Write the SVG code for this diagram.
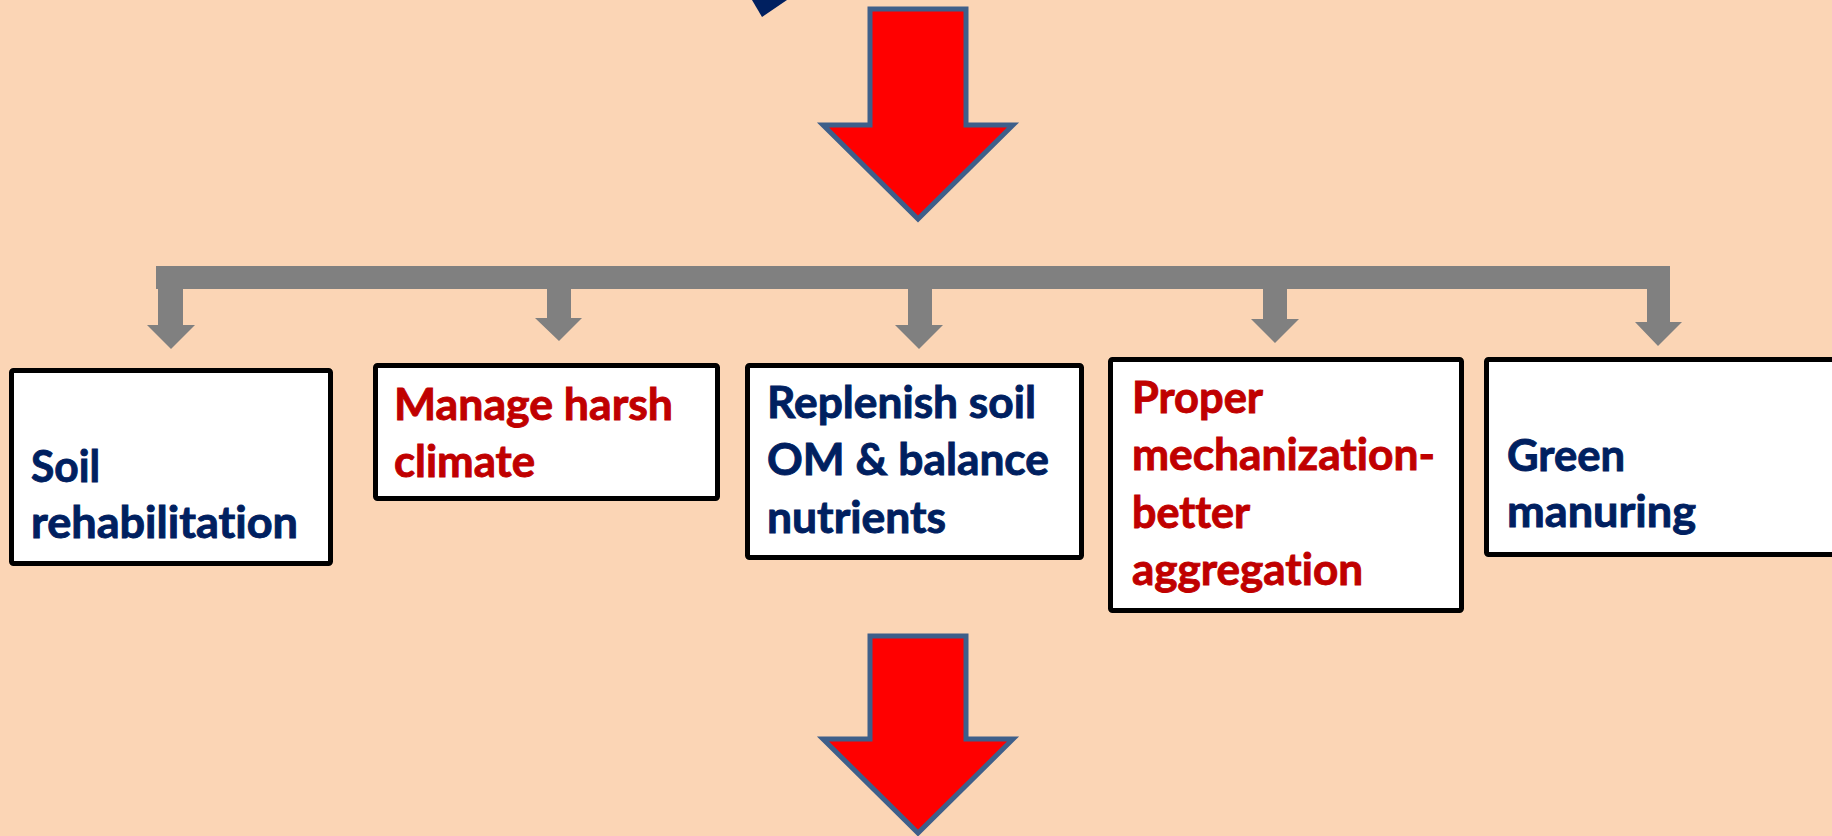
<svg xmlns="http://www.w3.org/2000/svg" width="1832" height="836" viewBox="0 0 1832 836">
<style>
.box{fill:#ffffff;stroke:#000000;stroke-width:5;}
.t{font-family:Lato,"Open Sans","Liberation Sans",sans-serif;font-weight:bold;font-size:43px;stroke-width:0.9px;font-variant-ligatures:none;font-feature-settings:"liga" 0,"dlig" 0;}
.navy{fill:#002060;stroke:#002060;}
.red{fill:#C00000;stroke:#C00000;}
.bigarrow{fill:#FF0000;stroke:#3E5F8A;stroke-width:5;stroke-linejoin:miter;stroke-miterlimit:10;}
.gray{fill:#808080;}
</style>
<rect x="0" y="0" width="1832" height="836" fill="#FBD5B5"/>
<polygon points="752,0 787,0 762,17" fill="#002060"/>
<g id="connectors">
<polygon class="bigarrow" points="870,9 966,9 966,125 1013,125 918,219 823,125 870,125"/>
<polygon class="bigarrow" points="870,636 966,636 966,739 1013,739 918,833 823,739 870,739"/>
<rect class="gray" x="156" y="266" width="1514" height="23"/>
<polygon class="gray" points="158,288 183,288 183,325 195,325 171,349 147,325 158,325"/>
<polygon class="gray" points="547,288 571,288 571,318 582,318 559,341 535,318 547,318"/>
<polygon class="gray" points="908,288 932,288 932,325 943,325 919,349 895,325 908,325"/>
<polygon class="gray" points="1263,288 1287,288 1287,319 1299,319 1275,343 1251,319 1263,319"/>
<polygon class="gray" points="1647,288 1670,288 1670,322 1682,322 1658,346 1635,322 1647,322"/>
</g>
<g id="node-soil-rehabilitation">
<rect class="box" x="11.5" y="370.5" width="319" height="193" rx="2"/>
<text class="t navy" x="31" y="482" textLength="69" lengthAdjust="spacingAndGlyphs">Soil</text>
<text class="t navy" x="31" y="538" textLength="267" lengthAdjust="spacingAndGlyphs">rehabilitation</text>
</g>
<g id="node-manage-harsh-climate">
<rect class="box" x="375.5" y="365.5" width="342" height="133" rx="2"/>
<text class="t red" x="394" y="420" textLength="279" lengthAdjust="spacingAndGlyphs">Manage harsh</text>
<text class="t red" x="394" y="477" textLength="141" lengthAdjust="spacingAndGlyphs">climate</text>
</g>
<g id="node-replenish-soil">
<rect class="box" x="747.5" y="365.5" width="334" height="192" rx="2"/>
<text class="t navy" x="767" y="418" textLength="269" lengthAdjust="spacingAndGlyphs">Replenish soil</text>
<text class="t navy" x="767" y="475" textLength="282" lengthAdjust="spacingAndGlyphs">OM &amp; balance</text>
<text class="t navy" x="767" y="533" textLength="179" lengthAdjust="spacingAndGlyphs">nutrients</text>
</g>
<g id="node-proper-mechanization">
<rect class="box" x="1110.5" y="359.5" width="351" height="251" rx="2"/>
<text class="t red" x="1132" y="413" textLength="131" lengthAdjust="spacingAndGlyphs">Proper</text>
<text class="t red" x="1132" y="470" textLength="303" lengthAdjust="spacingAndGlyphs">mechanization-</text>
<text class="t red" x="1132" y="528" textLength="118" lengthAdjust="spacingAndGlyphs">better</text>
<text class="t red" x="1132" y="585" textLength="231" lengthAdjust="spacingAndGlyphs">aggregation</text>
</g>
<g id="node-green-manuring">
<rect class="box" x="1486.5" y="359.5" width="400" height="195" rx="2"/>
<text class="t navy" x="1507" y="471" textLength="118" lengthAdjust="spacingAndGlyphs">Green</text>
<text class="t navy" x="1507" y="527" textLength="189" lengthAdjust="spacingAndGlyphs">manuring</text>
</g>
</svg>
